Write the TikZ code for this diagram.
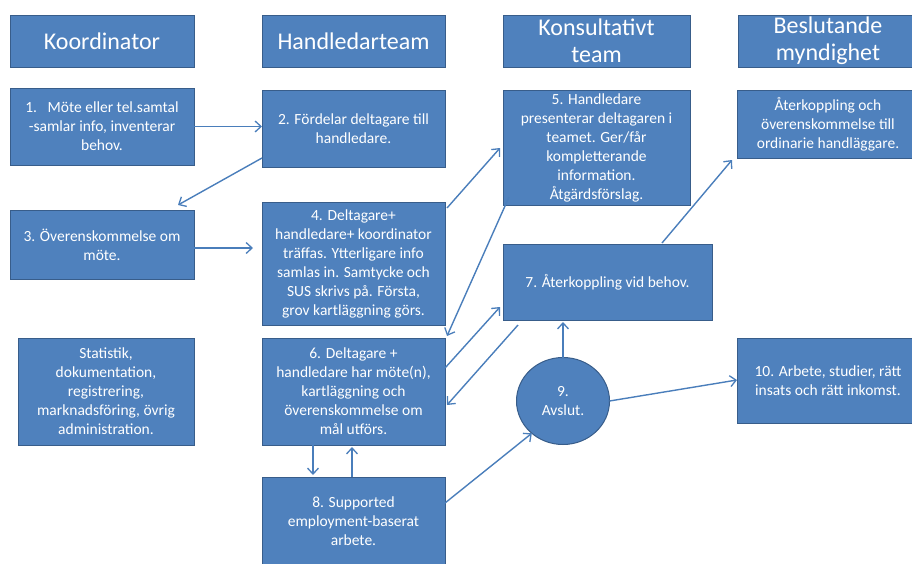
\documentclass[tikz,border=0pt]{standalone}
\usepackage{fontspec}
\setmainfont{Carlito}
\usetikzlibrary{arrows.meta,calc,shapes.geometric}
\definecolor{boxfill}{HTML}{4F81BD}
\definecolor{boxline}{HTML}{385D8A}
\definecolor{conn}{HTML}{4A7EBB}
\tikzset{
  box/.style={draw=boxline, line width=1pt, fill=boxfill, text=white, inner sep=0pt, outer sep=0pt, align=center,
    font=\fontsize{15.5}{19}\selectfont},
  headbox/.style={box, font=\fontsize{24}{27}\selectfont},
  conn/.style={draw=conn, line width=1.4pt, -{Straight Barb[length=6pt,width=11pt,line width=1.3pt]}},
}
\begin{document}
\begin{tikzpicture}[x=1pt,y=-1pt]
\useasboundingbox (0,0) rectangle (912,563);
\clip (0,0) rectangle (912,563);
% headers
\node[headbox, minimum width=184, minimum height=52] (hK) at (102,41) {Koordinator};
\node[headbox, minimum width=183, minimum height=52] (hH) at (353.5,41) {Handledarteam};
\node[headbox, minimum width=187, minimum height=52] (hKT) at (596.5,41) {Konsultativt\\team};
\node[headbox, minimum width=180, minimum height=52] (hB) at (828,41) {Beslutande\\myndighet};
% boxes
\node[box, minimum width=184, minimum height=77] (b1) at (102,126.5) {1.\ \ \ Möte eller tel.samtal\\-samlar info, inventerar\\behov.};
\node[box, minimum width=183, minimum height=77] (b2) at (353.5,128.5) {2. Fördelar deltagare till\\handledare.};
\node[box, minimum width=184, minimum height=69] (b3) at (102,244.5) {3. Överenskommelse om\\möte.};
\node[box, minimum width=183, minimum height=123] (b4) at (353.5,263.5) {4. Deltagare+\\handledare+ koordinator\\träffas. Ytterligare info\\samlas in. Samtycke och\\SUS skrivs på. Första,\\grov kartläggning görs.};
\node[box, minimum width=176, minimum height=107] (bs) at (106,391.5) {Statistik,\\dokumentation,\\registrering,\\marknadsföring, övrig\\administration.};
\node[box, minimum width=183, minimum height=107] (b6) at (353.5,391.5) {6. Deltagare +\\handledare har möte(n),\\kartläggning och\\överenskommelse om\\mål utförs.};
\node[box, minimum width=183, minimum height=88] (b8) at (353.5,521) {8. Supported\\employment-baserat\\arbete.};
\node[box, minimum width=187, minimum height=115] (b5) at (596.5,147.5) {5. Handledare\\presenterar deltagaren i\\teamet. Ger/får\\kompletterande\\information.\\Åtgärdsförslag.};
\node[box, minimum width=209, minimum height=76] (b7) at (607.5,282) {7. Återkoppling vid behov.};
\node[box, minimum width=182, minimum height=68] (bA) at (828,124) {Återkoppling och\\överenskommelse till\\ordinarie handläggare.};
\node[box, ellipse, minimum width=93, minimum height=87] (c9) at (563,401) {9.\\Avslut.};
\node[box, minimum width=182, minimum height=85] (b10) at (828,380.5) {10. Arbete, studier, rätt\\insats och rätt inkomst.};
% connectors
\draw[conn] (b1.east) -- (b1.east -| b2.west);
\draw[conn] ($(b2.south west)+(0,-9)$) -- ($(b3.north east)+(-16,-5)$);
\draw[conn] ($(b3.east)+(0,3.5)$) -- ($(b4.west |- b3.east)+(-9,3.5)$);
\draw[conn] ($(b4.north east)+(2,6)$) -- ($(b5.west)+(-3,0.5)$);
\draw[conn] ($(b5.south west)+(6,-8)$) -- ($(b6.north east)+(2,-2)$);
\draw[conn] ($(b6.north east)+(0,30)$) -- ($(b7.south west)+(-3,-13)$);
\draw[conn] ($(b7.south west)+(15,5)$) -- ($(b6.north east)+(2,67)$);
\draw[conn] ($(b6.south)+(-40.5,0)$) -- ($(b8.north)+(-40.5,-2)$);
\draw[conn] ($(b8.north)+(-1.5,0)$) -- ($(b6.south)+(-1.5,2)$);
\draw[conn] ($(b8.east)+(0,-18)$) -- (c9.226);
\draw[conn] (c9.north) -- ($(b7.south -| c9.north)+(0,2)$);
\draw[conn] (c9.east) -- ($(b10.west)+(0,-0.5)$);
\draw[conn] ($(b7.north)+(54.5,-1)$) -- ($(bA.south west)+(-5,2)$);
\end{tikzpicture}
\end{document}
